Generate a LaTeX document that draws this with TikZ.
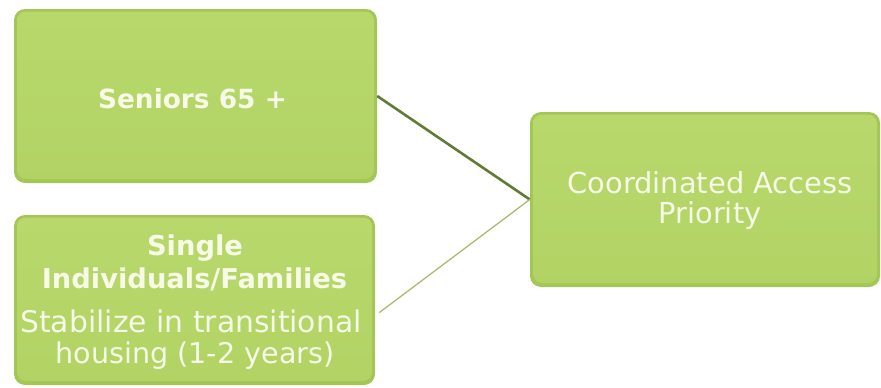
\documentclass[tikz,border=0pt]{standalone}
\usepackage{fontspec}
\setmainfont{DejaVu Sans}
\begin{document}
\definecolor{boxrim}{RGB}{164,198,86}
\definecolor{boxfill}{RGB}{178,211,100}
\definecolor{boxtop}{RGB}{184,216,108}
\definecolor{lbltext}{RGB}{246,250,230}
\definecolor{linkdark}{RGB}{96,124,52}
\definecolor{linklight}{RGB}{172,186,112}
\tikzset{
  greenbox/.style={rectangle, rounded corners=11pt, fill=boxrim, inner sep=0pt,
    path picture={
      \shade[top color=boxtop, bottom color=boxfill, rounded corners=9pt]
        ([shift={(3pt,4pt)}]path picture bounding box.south west)
        rectangle ([shift={(-3pt,-2.5pt)}]path picture bounding box.north east);
    }},
  lbl/.style={text=lbltext, anchor=base, inner sep=0pt},
  linkstrong/.style={draw=linkdark, line width=2.6pt},
  linkthin/.style={draw=linklight, line width=1.3pt},
}
\begin{tikzpicture}[x=1pt, y=-1pt]
  \useasboundingbox (0,0) rectangle (881,388);

  % boxes
  \node[greenbox, minimum width=363pt, minimum height=174pt] (seniors) at (195.5,96) {};
  \node[greenbox, minimum width=361pt, minimum height=170pt] (singles) at (194.5,300) {};
  \node[greenbox, minimum width=350pt, minimum height=175pt] (priority) at (705,199.5) {};

  % box texts
  \node[lbl, font=\bfseries\fontsize{26.4}{30}\selectfont] (tsen) at (192.5,108) {Seniors 65 +};

  \node[lbl, font=\bfseries\fontsize{27.3}{30}\selectfont] (tsingle) at (195,255) {Single};
  \node[lbl, font=\bfseries\fontsize{27.3}{30}\selectfont] (tindiv) at (194.5,288) {Individuals/Families};
  \node[lbl, font=\fontsize{29.8}{32}\selectfont] (tstab) at (191,332) {Stabilize in transitional};
  \node[lbl, font=\fontsize{28.6}{32}\selectfont] (thouse) at (195,363) {housing (1-2 years)};

  \node[lbl, font=\fontsize{28.9}{32}\selectfont] (tcoord) at (710,193) {Coordinated Access};
  \node[lbl, font=\fontsize{28.9}{32}\selectfont] (tprio) at (710,223) {Priority};

  % connectors
  \draw[linkstrong] (seniors.east) -- (priority.west);
  \draw[linkthin] ([xshift=4pt]singles.-4.75) -- (priority.west);
\end{tikzpicture}
\end{document}
